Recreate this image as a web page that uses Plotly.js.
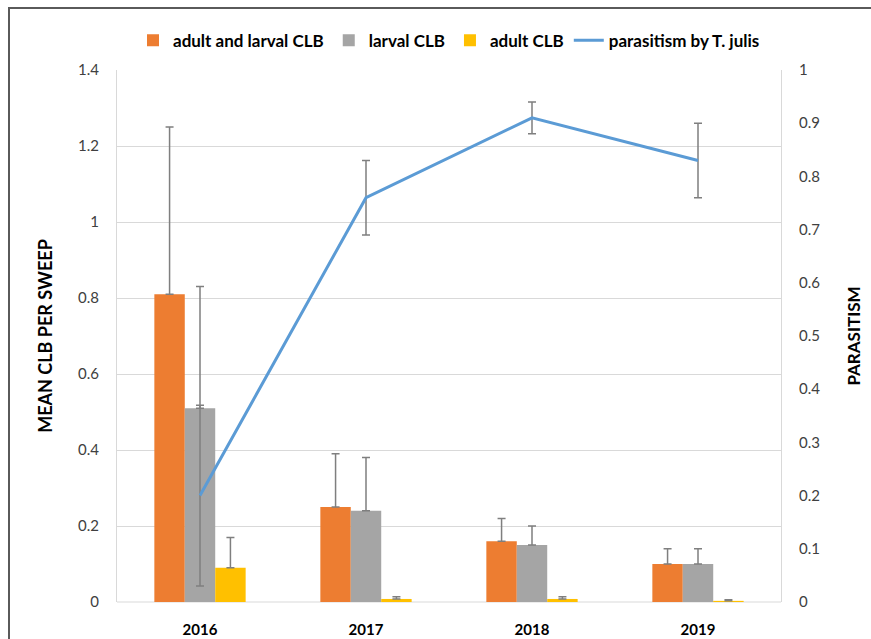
<!DOCTYPE html>
<html>
<head>
<meta charset="utf-8">
<script src="https://cdn.plot.ly/plotly-3.0.1.min.js"></script>
<style>
  html, body { margin: 0; padding: 0; background: #fff; }
  #frame { position: absolute; left: 8px; top: 7px; width: 900px; height: 700px;
           border-top: 2px solid #5a5a5a; border-left: 2px solid #5a5a5a; box-sizing: border-box; pointer-events: none; }
  #chart { width: 871px; height: 639px; }
</style>
</head>
<body>
<div id="chart"></div>
<div id="frame"></div>
<script>
const years = ['2016', '2017', '2018', '2019'];
const adultLarval = [0.81, 0.25, 0.16, 0.10];
const adultLarvalErr = [0.44, 0.14, 0.06, 0.04];
const larval = [0.51, 0.24, 0.15, 0.10];
const larvalErr = [0.32, 0.14, 0.05, 0.04];
const adult = [0.09, 0.008, 0.008, 0.003];
const adultErr = [0.08, 0.006, 0.006, 0.003];
const parasitism = [0.20, 0.76, 0.91, 0.83];
const parasitismErr = [0.17, 0.07, 0.03, 0.07];
const leftTicks = [0, 0.2, 0.4, 0.6, 0.8, 1, 1.2, 1.4];
const rightTicks = [0, 0.1, 0.2, 0.3, 0.4, 0.5, 0.6, 0.7, 0.8, 0.9, 1];

const errStyle = { color: '#7f7f7f', thickness: 1.5, width: 4 };
const noMinus = years.map(() => 0);

const traces = [
  { type: 'bar', name: 'adult and larval CLB', x: years, y: adultLarval,
    marker: { color: '#ed7d31' },
    error_y: Object.assign({ type: 'data', array: adultLarvalErr, symmetric: false, arrayminus: noMinus }, errStyle) },
  { type: 'bar', name: 'larval CLB', x: years, y: larval,
    marker: { color: '#a5a5a5' },
    error_y: Object.assign({ type: 'data', array: larvalErr, symmetric: false, arrayminus: noMinus }, errStyle) },
  { type: 'bar', name: 'adult CLB', x: years, y: adult,
    marker: { color: '#ffc000' },
    error_y: Object.assign({ type: 'data', array: adultErr, symmetric: false, arrayminus: noMinus }, errStyle) },
  { type: 'scatter', mode: 'lines', name: 'parasitism by T. julis', x: years, y: parasitism, yaxis: 'y2',
    line: { color: '#5b9bd5', width: 3 },
    error_y: Object.assign({ type: 'data', array: parasitismErr, visible: true }, errStyle) }
];

const layout = {
  width: 871, height: 639,
  margin: { l: 117, r: 90, t: 70, b: 37 },
  paper_bgcolor: '#ffffff', plot_bgcolor: '#ffffff',
  font: { family: 'Lato, "Open Sans", sans-serif', size: 14, color: '#404040' },
  barmode: 'group', bargap: 0.45, bargroupgap: 0,
  showlegend: true,
  legend: { orientation: 'h', x: 0.5, xanchor: 'center', y: 1.055, yanchor: 'middle',
            font: { size: 17, color: '#000', family: 'Lato, sans-serif', weight: 'bold' },
            itemwidth: 30, traceorder: 'normal' },
  xaxis: { type: 'category', showgrid: false, zeroline: false, showline: false,
           tickfont: { size: 15, color: '#000', weight: 'bold' }, ticks: '', ticklabelstandoff: 17 },
  yaxis: { range: [0, 1.4], tickvals: leftTicks, ticktext: leftTicks.map(String),
           showgrid: true, gridcolor: '#d9d9d9', gridwidth: 1, zeroline: false,
           showline: true, linecolor: '#d9d9d9', linewidth: 1, mirror: false,
           tickfont: { size: 15, color: '#404040' }, ticks: '', ticklabelstandoff: 14,
           title: { text: 'MEAN CLB PER SWEEP', font: { size: 18, color: '#000', weight: 'bold' }, standoff: 20 } },
  yaxis2: { range: [0, 1], tickvals: rightTicks, ticktext: rightTicks.map(String), overlaying: 'y', side: 'right',
            showgrid: false, zeroline: false, showline: true, linecolor: '#d9d9d9', linewidth: 1,
            tickfont: { size: 15, color: '#404040' }, ticks: '', ticklabelstandoff: 14,
            title: { text: 'PARASITISM', font: { size: 17, color: '#000', weight: 'bold' }, standoff: 28 } },
  shapes: [
    { type: 'line', xref: 'paper', yref: 'paper', x0: 0, x1: 1, y0: 0, y1: 0, line: { color: '#d9d9d9', width: 1 }, layer: 'below' }
  ]
};

Plotly.newPlot('chart', traces, layout, { displayModeBar: false, staticPlot: true });
</script>
</body>
</html>
